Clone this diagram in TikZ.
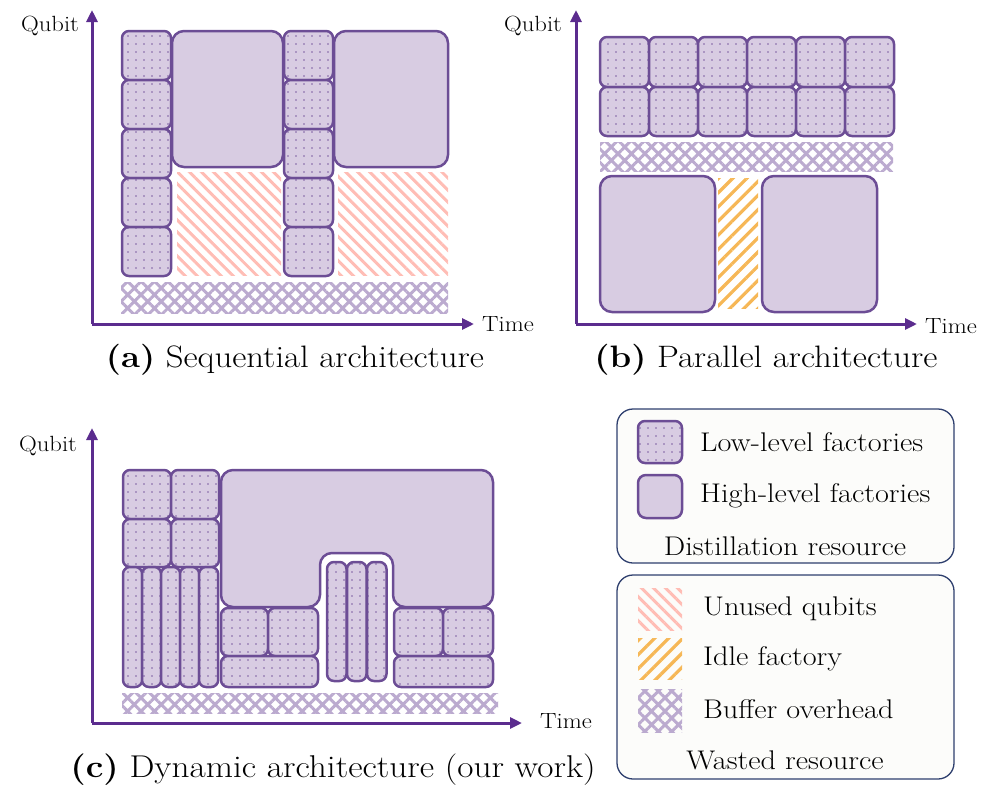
\documentclass[tikz,border=0pt]{standalone}
\usepackage{fontspec}
\setmainfont[FakeStretch=1.12]{Latin Modern Roman}
\usetikzlibrary{patterns.meta,arrows.meta}
\definecolor{axisc}{HTML}{5B2C8E}
\definecolor{bord}{HTML}{6C4D95}
\definecolor{lav}{HTML}{D8CCE2}
\definecolor{dotc}{HTML}{7E5FA3}
\definecolor{pinkc}{HTML}{FFBDB5}
\definecolor{orangec}{HTML}{F6B756}
\definecolor{bufc}{HTML}{BBAACF}
\definecolor{legb}{HTML}{2E3F6E}
\definecolor{legf}{HTML}{FCFCFA}
\tikzset{
  lowbox/.style={preaction={fill=lav}, pattern={Dots[distance=8pt,radius=0.8pt]}, pattern color=dotc, draw=bord, line width=2.5pt, rounded corners=7pt},
  highbox/.style={fill=lav, draw=bord, line width=2.5pt, rounded corners=12pt},
  unused/.style={pattern={Lines[angle=-45,distance=8.5pt,line width=3pt]}, pattern color=pinkc},
  idle/.style={pattern={Lines[angle=45,distance=10pt,line width=3.2pt]}, pattern color=orangec},
  buffer/.style={pattern={Hatch[angle=45,distance=9.5pt,line width=3pt]}, pattern color=bufc},
  axis/.style={draw=axisc, line width=3pt, -{Triangle[length=12pt,width=11pt]}},
  axlabel/.style={font=\fontsize{22}{26}\selectfont, inner sep=0pt},
  caption/.style={font=\fontsize{31}{36}\selectfont, inner sep=0pt},
  legtext/.style={font=\fontsize{27}{31}\selectfont, inner sep=0pt, anchor=west},
  legbox/.style={draw=legb, fill=legf, line width=1.3pt, rounded corners=16pt},
}
\newcommand\lowb[4]{\path[lowbox] (#1,#2) rectangle (#3,#4);}
\begin{document}
\begin{tikzpicture}[x=1pt,y=-1pt]
\useasboundingbox (0,0) rectangle (997,812);

% ---------------- Panel (a)
\coordinate (aO) at (92,324);
\coordinate (aY) at (92,10);
\coordinate (aX) at (474,324);
\foreach \y in {31,80,129,178,227} {\lowb{122}{\y}{171}{\y+49}}
\foreach \y in {31,80,129,178,227} {\lowb{284}{\y}{333}{\y+49}}
\path[highbox] (172,31) rectangle (283,167);
\path[highbox] (334,31) rectangle (448,167);
\path[unused] (177,172) rectangle (281,275);
\path[unused] (338,172) rectangle (448,275);
\path[buffer] (121,282) rectangle (448,313);
\draw[axis] (aO) -- (aY);
\draw[axis] (aO) -- (aX);
\node[axlabel] (aq) at (50,26) {Qubit};
\node[axlabel] (at) at (508,324) {Time};
\node[caption] (acap) at (295,360) {\textbf{(a)} Sequential architecture};

% ---------------- Panel (b)
\coordinate (bO) at (576,324);
\coordinate (bY) at (576,10);
\coordinate (bX) at (917,324);
\foreach \x in {600,649,698,747,796,845} {
  \lowb{\x}{37}{\x+49}{87}
  \lowb{\x}{87}{\x+49}{136}
}
\path[buffer] (600,142) rectangle (893,171);
\path[highbox] (600,176) rectangle (715,312);
\path[idle] (718,178) rectangle (758,308);
\path[highbox] (762,176) rectangle (877,312);
\draw[axis] (bO) -- (bY);
\draw[axis] (bO) -- (bX);
\node[axlabel] (bq) at (533,26) {Qubit};
\node[axlabel] (bt) at (951,326) {Time};
\node[caption] (bcap) at (766,360) {\textbf{(b)} Parallel architecture};

% ---------------- Panel (c)
\coordinate (cO) at (92,723);
\coordinate (cY) at (92,428);
\coordinate (cX) at (522,723);
\lowb{123}{470}{171}{519}
\lowb{171}{470}{219}{519}
\lowb{123}{519}{171}{567}
\lowb{171}{519}{219}{567}
\foreach \x in {123,142,161,180,199} {\lowb{\x}{567}{\x+19.2}{687}}
\path[highbox] (221,470) -- (493,470) -- (493,607) -- (393,607) -- (393,553) -- (320,553) -- (320,607) -- (221,607) -- cycle;
\lowb{221}{608}{268}{656}
\lowb{268}{608}{318}{656}
\lowb{221}{656}{318}{687}
\foreach \x in {327,347,367} {\lowb{\x}{562}{\x+19.5}{681}}
\lowb{394}{608}{443}{656}
\lowb{443}{608}{493}{656}
\lowb{394}{656}{493}{687}
\path[buffer] (122,693) rectangle (498,713);
\draw[axis] (cO) -- (cY);
\draw[axis] (cO) -- (cX);
\node[axlabel] (cq) at (48,446) {Qubit};
\node[axlabel] (ct) at (566,721) {Time};
\node[caption, font=\fontsize{31.5}{36}\selectfont] (ccap) at (333,770) {\textbf{(c)} Dynamic architecture (our work)};

% ---------------- Legend
\path[legbox] (617,409) rectangle (954,563);
\lowb{638}{421}{682}{463}
\path[highbox, rounded corners=8pt] (638,475) rectangle (682,518);
\node[legtext] (l1) at (700,442) {Low-level factories};
\node[legtext] (l2) at (700,496) {High-level factories};
\node[legtext, anchor=center] (l3) at (785,546) {Distillation resource};

\path[legbox] (617,575) rectangle (954,779);
\path[unused] (638,588) rectangle (682,630);
\path[idle] (638,638) rectangle (682,679);
\path[buffer] (638,689) rectangle (682,732);
\node[legtext] (l4) at (703,609) {Unused qubits};
\node[legtext] (l5) at (703,659) {Idle factory};
\node[legtext] (l6) at (703,709) {Buffer overhead};
\node[legtext, anchor=center] (l7) at (785,760) {Wasted resource};
\end{tikzpicture}
\end{document}
